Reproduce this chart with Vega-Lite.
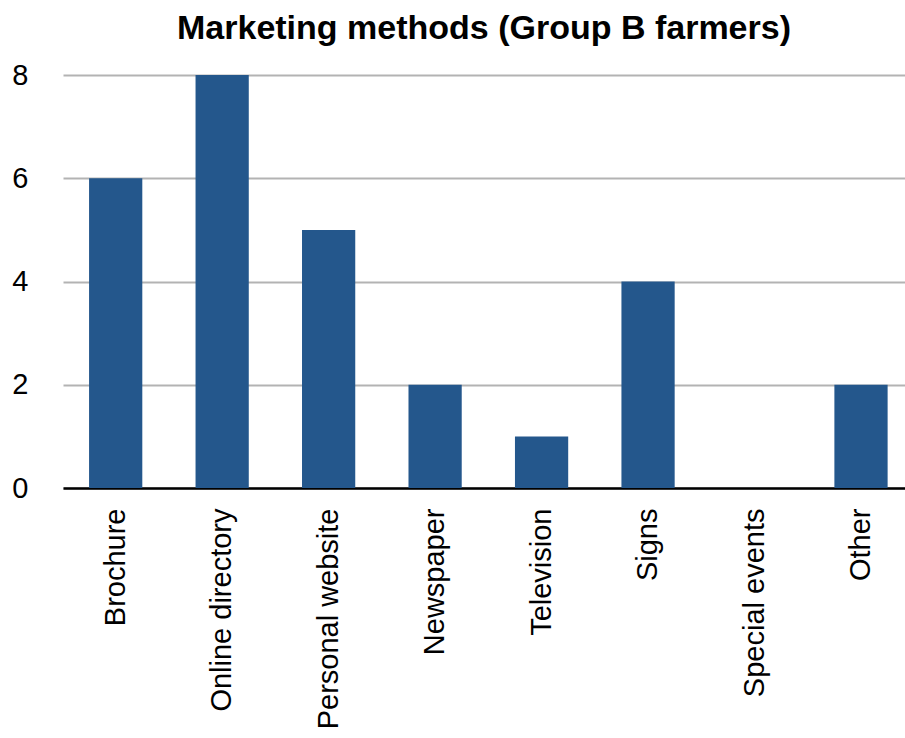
{
  "$schema": "https://vega.github.io/schema/vega-lite/v6.json",
  "autosize": {"type": "none"},
  "width": 842,
  "height": 413,
  "padding": {"left": 63, "top": 75, "right": 0, "bottom": 250},
  "background": "white",
  "title": {
    "text": "Marketing methods (Group B farmers)",
    "font": "Liberation Sans",
    "fontSize": 34,
    "fontWeight": "bold",
    "color": "black",
    "anchor": "middle",
    "offset": 15
  },
  "data": {
    "values": [
      {"method": "Brochure", "count": 6},
      {"method": "Online directory", "count": 8},
      {"method": "Personal website", "count": 5},
      {"method": "Newspaper", "count": 2},
      {"method": "Television", "count": 1},
      {"method": "Signs", "count": 4},
      {"method": "Special events", "count": 0},
      {"method": "Other", "count": 2}
    ]
  },
  "mark": {"type": "bar", "color": "#24578C"},
  "encoding": {
    "x": {
      "field": "method",
      "type": "nominal",
      "sort": null,
      "scale": {"paddingInner": 0.5, "paddingOuter": 0.204, "align": 0.6},
      "axis": {
        "title": null,
        "labelAngle": -90,
        "labelAlign": "right",
        "labelBaseline": "middle",
        "labelFont": "Liberation Sans",
        "labelFontSize": 29,
        "labelColor": "black",
        "labelPadding": 20,
        "labelLimit": 0,
        "ticks": false,
        "domainColor": "black",
        "domainWidth": 2.5,
        "grid": false
      }
    },
    "y": {
      "field": "count",
      "type": "quantitative",
      "scale": {"domain": [0, 8]},
      "axis": {
        "title": null,
        "values": [0, 2, 4, 6, 8],
        "labelFont": "Liberation Sans",
        "labelFontSize": 29,
        "labelColor": "black",
        "labelPadding": 35,
        "ticks": false,
        "domain": false,
        "gridColor": "#b3b3b3",
        "gridWidth": 2
      }
    }
  },
  "config": {"view": {"stroke": null}}
}
